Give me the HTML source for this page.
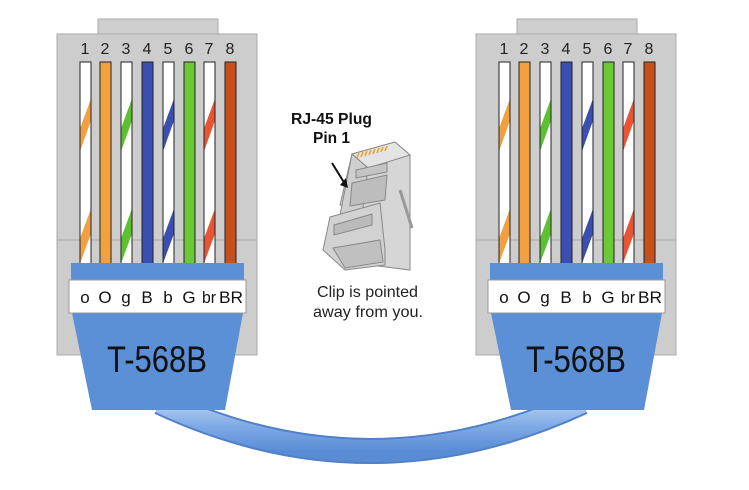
<!DOCTYPE html>
<html><head><meta charset="utf-8"><style>body{margin:0;background:#fff}svg{display:block}text{font-family:"Liberation Sans",sans-serif}</style></head>
<body>
<svg width="749" height="490" viewBox="0 0 749 490">
<defs>
<linearGradient id="cab" x1="0" y1="0" x2="0" y2="1"><stop offset="0" stop-color="#b4d0f2"/><stop offset="0.5" stop-color="#7eaae6"/><stop offset="1" stop-color="#5a8cd6"/></linearGradient>
<g id="conn">
<rect x="98" y="19" width="120" height="16" fill="#cfcfcf" stroke="#aaa"/>
<rect x="57" y="34" width="200" height="321" fill="#cdcdcd" stroke="#aaa"/>
<line x1="57" y1="240" x2="257" y2="240" stroke="#aaa"/>
<g font-size="16" fill="#222" text-anchor="middle">
<text x="85" y="54">1</text><text x="105" y="54">2</text><text x="126" y="54">3</text><text x="147" y="54">4</text><text x="168" y="54">5</text><text x="189" y="54">6</text><text x="209" y="54">7</text><text x="230" y="54">8</text></g>
<g stroke="#222" stroke-width="1">
<rect x="80" y="62" width="11" height="202" fill="#fff"/>
<rect x="100" y="62" width="11" height="202" fill="#f4a040"/>
<rect x="121" y="62" width="11" height="202" fill="#fff"/>
<rect x="142" y="62" width="11" height="202" fill="#3a4fb0"/>
<rect x="163" y="62" width="11" height="202" fill="#fff"/>
<rect x="184" y="62" width="11" height="202" fill="#6cc834"/>
<rect x="204" y="62" width="11" height="202" fill="#fff"/>
<rect x="225" y="62" width="11" height="202" fill="#c8501a"/>
</g>
<g>
<polygon points="80.5,127 90.5,100 90.5,122 80.5,150" fill="#f0a040"/><polygon points="80.5,237 90.5,210 90.5,235 80.5,262" fill="#f0a040"/>
<polygon points="121.5,127 131.5,100 131.5,122 121.5,150" fill="#5cc030"/><polygon points="121.5,237 131.5,210 131.5,235 121.5,262" fill="#5cc030"/>
<polygon points="163.5,127 173.5,100 173.5,122 163.5,150" fill="#3a4fb0"/><polygon points="163.5,237 173.5,210 173.5,235 163.5,262" fill="#3a4fb0"/>
<polygon points="204.5,127 214.5,100 214.5,122 204.5,150" fill="#e85535"/><polygon points="204.5,237 214.5,210 214.5,235 204.5,262" fill="#e85535"/>
</g>
<rect x="71" y="263" width="173" height="18" fill="#5b8fd6"/>
<polygon points="72,313 243,313 225,410 92,410" fill="#5b8fd6"/>
<rect x="69" y="280" width="177" height="33" fill="#fff" stroke="#999"/>
<g font-size="17" fill="#111" text-anchor="middle">
<text x="85" y="303">o</text><text x="105" y="303">O</text><text x="126" y="303">g</text><text x="147" y="303">B</text><text x="168" y="303">b</text><text x="189" y="303">G</text><text x="209" y="303" textLength="14" lengthAdjust="spacingAndGlyphs">br</text><text x="231" y="303" textLength="24" lengthAdjust="spacingAndGlyphs">BR</text></g>
<text x="107" y="372" font-size="37" fill="#111" textLength="100" lengthAdjust="spacingAndGlyphs">T-568B</text>
</g>
</defs>
<path d="M160,402 Q370,500 582,402" fill="none" stroke="#5080c8" stroke-width="26"/>
<path d="M160,402 Q370,500 582,402" fill="none" stroke="url(#cab)" stroke-width="22"/>
<g><use href="#conn"/></g>
<g><use href="#conn" transform="translate(419,0)"/></g>
<g>
<polygon points="352,154 395,142 410,155 410,270 370,265 365,210 340,205" fill="#d6d6d6" stroke="#888"/>
<polygon points="352,154 395,142 410,155 368,168" fill="#e4e4e4" stroke="#888"/>
<polygon points="352,154 368,168 362,215 340,215" fill="#cfcfcf" stroke="#888"/>
<g stroke="#f0a020" stroke-width="1.5"><line x1="357" y1="158" x2="359" y2="153"/><line x1="361" y1="157" x2="363" y2="152"/><line x1="365" y1="156" x2="367" y2="151"/><line x1="369" y1="155" x2="371" y2="150"/><line x1="373" y1="154" x2="375" y2="149"/><line x1="377" y1="153" x2="379" y2="148"/><line x1="381" y1="152" x2="383" y2="147"/><line x1="385" y1="151" x2="387" y2="146"/></g>
<polygon points="356,170 387,163 387,172 356,178" fill="#c4c4c4" stroke="#888"/>
<polygon points="352,183 387,175 385,200 350,206" fill="#bdbdbd" stroke="#888"/>
<line x1="400" y1="190" x2="412" y2="228" stroke="#999" stroke-width="3"/>
<polygon points="330,217 380,203 385,250 385,265 345,270 323,250" fill="#d2d2d2" stroke="#888"/>
<polygon points="334,225 372,214 372,225 334,235" fill="#bbb" stroke="#888"/>
<polygon points="333,248 380,240 383,262 345,268" fill="#c0c0c0" stroke="#888"/>
<line x1="332" y1="163" x2="345" y2="184" stroke="#111" stroke-width="2"/>
<polygon points="340,185 348,188 346,178" fill="#111"/>
<text x="291" y="124" font-size="16" font-weight="bold" fill="#111" textLength="81" lengthAdjust="spacingAndGlyphs">RJ-45 Plug</text>
<text x="313" y="143" font-size="16" font-weight="bold" fill="#111" textLength="37" lengthAdjust="spacingAndGlyphs">Pin 1</text>
<text x="317" y="297" font-size="16" fill="#222" textLength="101" lengthAdjust="spacingAndGlyphs">Clip is pointed</text>
<text x="313" y="317" font-size="16" fill="#222" textLength="110" lengthAdjust="spacingAndGlyphs">away from you.</text>
</g>
</svg>
</body></html>
